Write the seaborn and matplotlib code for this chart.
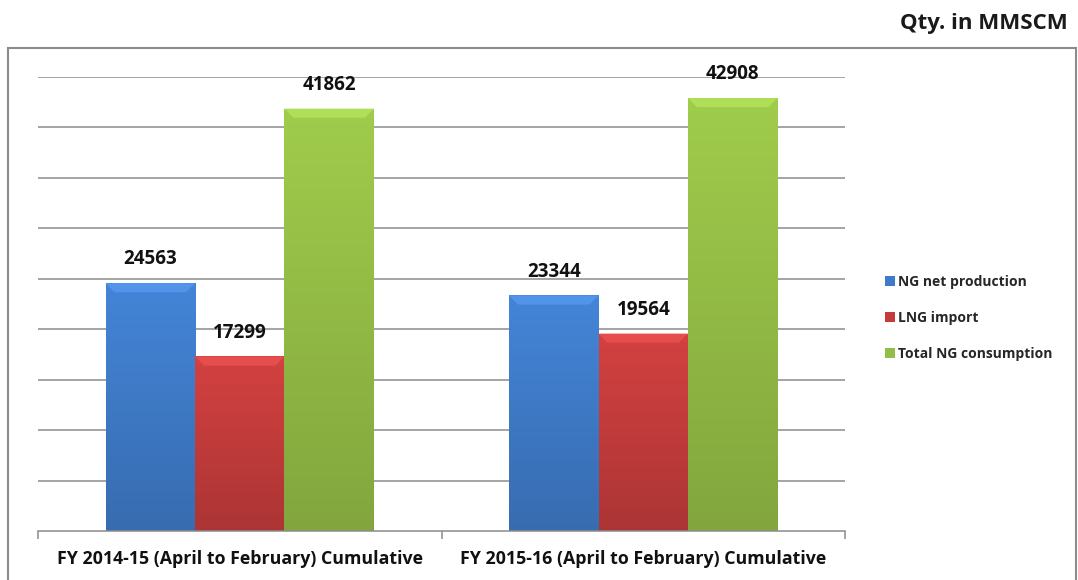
import numpy as np
import pandas as pd
import matplotlib
matplotlib.use("Agg")
import matplotlib.pyplot as plt
import seaborn as sns
from matplotlib.patches import Rectangle, Patch, Polygon

categories = ["FY 2014-15 (April to February) Cumulative",
              "FY 2015-16 (April to February) Cumulative"]
series = ["NG net production", "LNG import", "Total NG consumption"]
ng_net_production = [24563, 23344]
lng_import = [17299, 19564]
total_ng_consumption = [41862, 42908]
colors = ["#3f7bc8", "#c43c3c", "#94bd46"]

rows = []
for s, vals in zip(series, [ng_net_production, lng_import, total_ng_consumption]):
    for c, v in zip(categories, vals):
        rows.append({"Category": c, "Series": s, "Value": v})
df = pd.DataFrame(rows)

sns.set_theme(style="white")
FAM = ["Open Sans", "DejaVu Sans"]
plt.rcParams["font.family"] = FAM

fig = plt.figure(figsize=(10.78, 5.8), dpi=100)
ax = fig.add_axes([38/1078, 49/580, (845-38)/1078, (531-77)/580])

sns.barplot(data=df, x="Category", y="Value", hue="Series", order=categories,
            hue_order=series, palette=colors, width=0.665, saturation=1,
            edgecolor="none", linewidth=0, ax=ax, legend=False)

ax.set_ylim(0, 45000)
ax.set_xlim(-0.5, 1.5)

# gradient/bevel effect
for p in list(ax.patches):
    x0, y0 = p.get_x(), p.get_y()
    w, h = p.get_width(), p.get_height()
    base = np.array(matplotlib.colors.to_rgb(p.get_facecolor()))
    t = np.linspace(0, 1, 100)[:, None]  # 0 bottom -> 1 top
    shade = 0.88 + 0.2 * t
    img = np.clip(base[None, None, :] * shade[:, :, None] * np.ones((1, 10, 1)), 0, 1)
    im = ax.imshow(img, extent=[x0, x0 + w, y0, y0 + h], aspect="auto", origin="lower",
                   zorder=p.get_zorder() + 0.1, interpolation="bilinear")
    im.set_clip_path(p)
    # top bevel (trapezoid)
    bh = 900
    dx = w * 0.1
    light = np.clip(base * 1.12 + 0.04, 0, 1)
    ax.add_patch(Polygon([(x0, y0 + h), (x0 + w, y0 + h), (x0 + w - dx, y0 + h - bh),
                          (x0 + dx, y0 + h - bh)], closed=True, facecolor=light,
                         edgecolor="none", zorder=p.get_zorder() + 0.2))
    ax.annotate(f"{int(round(h))}", (x0 + w / 2, y0 + h), xytext=(0, 10),
                textcoords="offset points", ha="center", va="bottom",
                fontsize=13.5, fontweight="bold", color="#111111")

ax.set_yticks(np.arange(5000, 45001, 5000))
ax.set_yticklabels([])
ax.tick_params(axis="y", length=0)
ax.yaxis.grid(True, color="#8c8c8c", linewidth=1.1)
ax.set_axisbelow(True)
ax.set_xticks([0, 1])
ax.set_xticklabels(categories, fontsize=12.8, fontweight="bold", color="#111111")
ax.set_xticks([-0.5, 0.5, 1.5], minor=True)
ax.tick_params(axis="x", which="major", length=0, pad=14)
ax.tick_params(axis="x", which="minor", length=6, width=1.1, color="#8c8c8c", direction="out")
ax.tick_params(axis="x", which="both", bottom=True)
ax.set_xlabel("")
ax.set_ylabel("")
for s in ["top", "right", "left"]:
    ax.spines[s].set_visible(False)
ax.spines["bottom"].set_color("#8c8c8c")
ax.spines["bottom"].set_linewidth(1.1)

# outer border
fig.patches.append(Rectangle((8/1078, -0.01), (1076-8)/1078, (580-48)/580 + 0.01,
                             transform=fig.transFigure, fill=False,
                             edgecolor="#8c8c8c", linewidth=1.5))

handles = [Patch(facecolor=c, edgecolor="none") for c in colors]
fig.legend(handles, series, loc="center left", bbox_to_anchor=(872/1078, 1 - 318/580),
           frameon=False, handlelength=0.75, handleheight=0.75, handletextpad=0.25,
           labelspacing=1.6, prop={"family": FAM, "weight": "bold", "size": 10})

fig.text(1068/1078, 1 - 23/580, "Qty. in MMSCM", ha="right", va="center",
         fontsize=16, fontweight="bold", color="#1a1a1a", family=FAM)

fig.savefig("out.png", dpi=100)
